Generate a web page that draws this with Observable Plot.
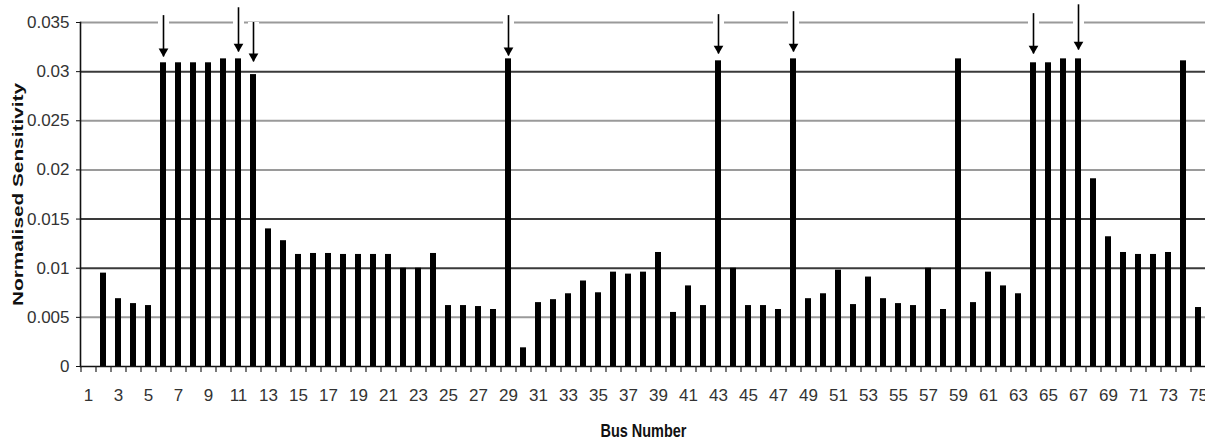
<!DOCTYPE html>
<html>
<head>
<meta charset="utf-8">
<script src="https://cdn.jsdelivr.net/npm/d3@7"></script>
<script src="https://cdn.jsdelivr.net/npm/@observablehq/plot@0.6"></script>
<style>
  html, body { margin: 0; padding: 0; background: #fff; }
  #chart { width: 1205px; height: 443px; }
</style>
</head>
<body>
<div id="chart"></div>
<script>
// ---- data ----
const buses = d3.range(1, 76);
const sensitivity = [
  0, 0.0095, 0.0069, 0.0064, 0.0062, 0.0309, 0.0309, 0.0309, 0.0309, 0.0313,
  0.0313, 0.0297, 0.0140, 0.0128, 0.0114, 0.0115, 0.0115, 0.0114, 0.0114, 0.0114,
  0.0114, 0.0100, 0.0100, 0.0115, 0.0062, 0.0062, 0.0061, 0.0058, 0.0313, 0.0019,
  0.0065, 0.0068, 0.0074, 0.0087, 0.0075, 0.0096, 0.0094, 0.0096, 0.0116, 0.0055,
  0.0082, 0.0062, 0.0311, 0.0100, 0.0062, 0.0062, 0.0058, 0.0313, 0.0069, 0.0074,
  0.0098, 0.0063, 0.0091, 0.0069, 0.0064, 0.0062, 0.0100, 0.0058, 0.0313, 0.0065,
  0.0096, 0.0082, 0.0074, 0.0309, 0.0309, 0.0313, 0.0313, 0.0191, 0.0132, 0.0116,
  0.0114, 0.0114, 0.0116, 0.0311, 0.0060
];
const arrowBuses = [6, 11, 12, 29, 43, 48, 64, 67];
const arrowTop   = [0.0357, 0.0365, 0.0350, 0.0357, 0.0358, 0.0361, 0.0359, 0.0368];
const arrowTip   = [0.0315, 0.0320, 0.0310, 0.0316, 0.0318, 0.0320, 0.0318, 0.0322];
const yTicks = [0, 0.005, 0.01, 0.015, 0.02, 0.025, 0.03, 0.035];
const gridLight = [0.005, 0.02, 0.025, 0.035];
const gridDark = [0.01, 0.015, 0.03];
const xTickLabels = buses.filter(b => b % 2 === 1);
const xTitle = "Bus Number";
const yTitle = "Normalised Sensitivity";

// ---- tables ----
const bars = buses.map((b, i) => ({bus: b, value: sensitivity[i]}));
const arrows = arrowBuses.map((b, i) => ({bus: b, top: arrowTop[i], tip: arrowTip[i]}));

const narrow = "'Liberation Sans Narrow', 'Arial Narrow', 'Liberation Sans', Arial, sans-serif";

const chart = Plot.plot({
  width: 1205,
  height: 443,
  marginLeft: 80,
  marginRight: 0,
  marginTop: 22,
  marginBottom: 77,
  style: {background: "#fff", fontFamily: narrow, fontSize: "17px", color: "#333", overflow: "visible"},
  x: {type: "band", domain: buses, paddingInner: 0.6, paddingOuter: 0.3, align: 0.5},
  y: {domain: [0, 0.035]},
  marks: [
    Plot.ruleY(gridLight, {stroke: "#9a9a9a", strokeWidth: 2}),
    Plot.ruleY(gridDark, {stroke: "#3a3a3a", strokeWidth: 2}),
    Plot.ruleX(arrows, {x: "bus", y1: "top", y2: "tip", stroke: "#fff", strokeWidth: 11}),
    Plot.barY(bars, {x: "bus", y: "value", fill: "#000"}),
    Plot.ruleX(arrows, {x: "bus", y1: "top", y2: "tip", stroke: "#000", strokeWidth: 1.6}),
    Plot.dot(arrows, {x: "bus", y: "tip", symbol: "triangle", rotate: 180, r: 3.6, fill: "#000", stroke: null, dy: -5.5}),
    Plot.ruleY([0], {stroke: "#111", strokeWidth: 1.6}),
    Plot.frame({anchor: "left", stroke: "#111", strokeWidth: 1.6}),
    Plot.ruleX(buses, {x: d => d, y1: 0, y2: -0.0006, dx: -7.5, stroke: "#222", strokeWidth: 1.2}),
    Plot.axisX({ticks: xTickLabels, tickSize: 0, tickPadding: 22, label: null, fill: "#333", fontSize: 17}),
    Plot.axisY({ticks: yTicks, tickSize: 4, tickPadding: 7, label: null, fill: "#333", fontSize: 17, stroke: "#111",
                tickFormat: d => String(d)}),
    Plot.text([xTitle], {text: d => d, frameAnchor: "bottom", textAnchor: "start", dy: 64, dx: -42.5,
                         fontWeight: "bold", fontSize: 19, fill: "#111", lineAnchor: "middle"}),
    Plot.text([yTitle], {text: d => d, frameAnchor: "left", textAnchor: "start", dx: -62.5, dy: 111.5, rotate: -90,
                         fontWeight: "bold", fontSize: 15, fill: "#111", lineAnchor: "middle",
                         fontFamily: "'Liberation Sans', Arial, sans-serif"})
  ]
});

// stretch the titles to the lengths they have in the original
d3.select(chart).selectAll("text").filter(function () { return this.textContent === yTitle; })
  .attr("textLength", 223).attr("lengthAdjust", "spacingAndGlyphs");
d3.select(chart).selectAll("text").filter(function () { return this.textContent === xTitle; })
  .attr("textLength", 86).attr("lengthAdjust", "spacingAndGlyphs");

document.getElementById("chart").appendChild(chart);
</script>
</body>
</html>
